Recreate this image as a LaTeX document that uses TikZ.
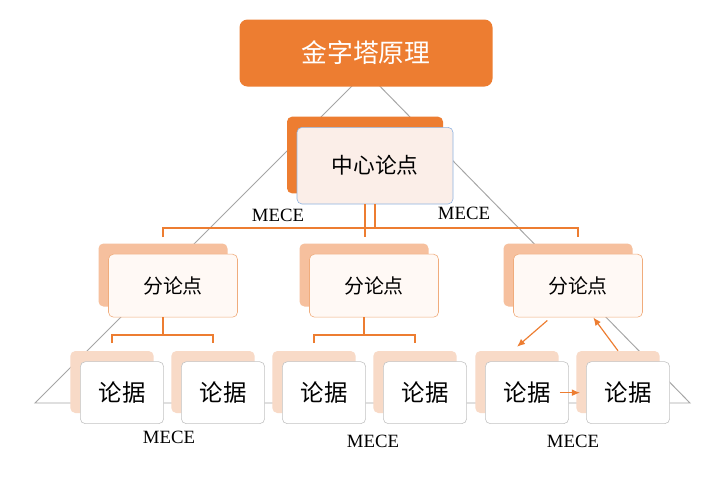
\documentclass[tikz,border=0pt]{standalone}
\usepackage{fontspec}
\setmainfont{Liberation Serif}
\newfontfamily\cjk{Noto Sans CJK SC}
\usetikzlibrary{positioning,arrows.meta}

\definecolor{pyorange}{RGB}{237,125,49}
\definecolor{mainpink}{RGB}{251,238,232}
\definecolor{mainblue}{RGB}{141,179,226}
\definecolor{subpeach}{RGB}{246,192,158}
\definecolor{subfill}{RGB}{255,249,245}
\definecolor{subline}{RGB}{240,172,124}
\definecolor{leafpeach}{RGB}{248,218,199}
\definecolor{leafline}{RGB}{195,195,195}
\definecolor{framegray}{RGB}{165,165,165}

\tikzset{
  titlebox/.style={rectangle,rounded corners=2.4mm,fill=pyorange,text=white,inner sep=0pt,
    minimum width=75.9mm,minimum height=20.1mm,font=\cjk\fontsize{22}{26}\selectfont},
  mainback/.style={rectangle,rounded corners=1.5mm,fill=pyorange,inner sep=0pt,
    minimum width=46.8mm,minimum height=23mm},
  mainfront/.style={mainback,fill=mainpink,draw=mainblue,line width=0.5pt,
    font=\cjk\fontsize{18.5}{22}\selectfont},
  subback/.style={rectangle,rounded corners=1.5mm,fill=subpeach,inner sep=0pt,
    minimum width=38.7mm,minimum height=18.9mm},
  subfront/.style={subback,fill=subfill,draw=subline,line width=0.5pt,
    font=\cjk\fontsize{17}{20}\selectfont},
  leafback/.style={rectangle,rounded corners=1.5mm,fill=leafpeach,inner sep=0pt,
    minimum width=25mm,minimum height=18.6mm},
  leaffront/.style={leafback,fill=white,draw=leafline,line width=0.5pt,
    font=\cjk\fontsize{20}{24}\selectfont},
  link/.style={draw=pyorange,line width=1pt},
  stem/.style={link,line width=2pt},
  flow/.style={link,-{Latex[length=2.4mm,width=2mm]}},
  mece/.style={font=\fontsize{16}{18}\selectfont},
  frame/.style={draw=framegray,line width=0.8pt}
}

\begin{document}
\begin{tikzpicture}[x=0.3mm,y=-0.3mm,on grid]
  \fill[white] (0,0) rectangle (718,480);
  \useasboundingbox (0,0) rectangle (718,480);

  % pyramid outline
  \draw[frame] (366,72) -- (35,403) -- (690,403) -- cycle;

  % top
  \node[titlebox] (tt) at (366,53) {金字塔原理};
  \node[mainback] (mb) at (365,155) {};
  \node[mainfront, below right=3.2mm and 3mm of mb] (mf) {中心论点};

  % second level
  \node[subback] (sb1) at (163,275) {};
  \node[subfront, below right=3.2mm and 3mm of sb1] (sf1) {分论点};
  \node[subback] (sb2) at (364,275) {};
  \node[subfront, below right=3.2mm and 3mm of sb2] (sf2) {分论点};
  \node[subback] (sb3) at (568,275) {};
  \node[subfront, below right=3.2mm and 3mm of sb3] (sf3) {分论点};

  % third level
  \node[leafback] (lb1) at (112,382) {};
  \node[leaffront, below right=3.2mm and 3mm of lb1] (lf1) {论据};
  \node[leafback] (lb2) at (213,382) {};
  \node[leaffront, below right=3.2mm and 3mm of lb2] (lf2) {论据};
  \node[leafback] (lb3) at (314,382) {};
  \node[leaffront, below right=3.2mm and 3mm of lb3] (lf3) {论据};
  \node[leafback] (lb4) at (415,382) {};
  \node[leaffront, below right=3.2mm and 3mm of lb4] (lf4) {论据};
  \node[leafback] (lb5) at (517,382) {};
  \node[leaffront, below right=3.2mm and 3mm of lb5] (lf5) {论据};
  \node[leafback] (lb6) at (618,382) {};
  \node[leaffront, below right=3.2mm and 3mm of lb6] (lf6) {论据};

  % brackets
  \coordinate (bar) at (0,228);
  \coordinate (tick) at (0,237);
  \coordinate (bar2) at (0,335);
  \coordinate (tick2) at (0,343);
  \draw[link] (mf.south) -- (mf.south |- bar);
  \draw[link] (mb |- mf.south) -- (mb |- tick);
  \draw[link] (sb1 |- tick) -- (sb1 |- bar) -- (sf3 |- bar) -- (sf3 |- tick);
  \draw[stem] (sb1 |- sf1.south) -- (sb1 |- bar2);
  \draw[link] (lb1 |- tick2) -- (lb1 |- bar2) -- (lb2 |- bar2) -- (lb2 |- tick2);
  \draw[stem] (sb2 |- sf2.south) -- (sb2 |- bar2);
  \draw[link] (lb3 |- tick2) -- (lb3 |- bar2) -- (lb4 |- bar2) -- (lb4 |- tick2);

  % arrows
  \draw[flow] ([xshift=-9.2mm,yshift=-0.9mm]sf3.south) -- ([yshift=1.2mm]lb5.north);
  \draw[flow] (lb6.north) -- ([xshift=4.6mm]sf3.south);
  \draw[flow] ([xshift=-2.7mm]lf5.east) -- ([xshift=3.3mm]lf5.east);

  % labels
  \node[mece] (m1) at (278,215) {MECE};
  \node[mece] (m2) at (464,213) {MECE};
  \node[mece] (m3) at (169,437) {MECE};
  \node[mece] (m4) at (373,441) {MECE};
  \node[mece] (m5) at (573,441) {MECE};
\end{tikzpicture}
\end{document}
